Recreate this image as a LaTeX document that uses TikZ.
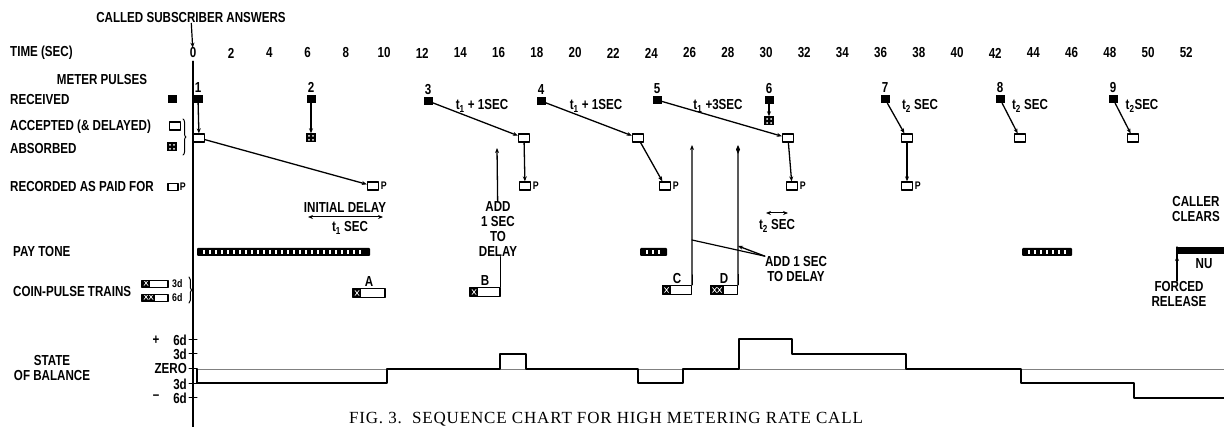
\documentclass[tikz,border=0pt]{standalone}
\usepackage{fontspec}
\newfontfamily\chartfont{Liberation Sans}[FakeStretch=0.8]
\newfontfamily\capfont{Liberation Serif}[LetterSpace=5]
\usetikzlibrary{arrows.meta,decorations.pathreplacing}
\begin{document}
\begin{tikzpicture}[x=1pt,y=-1pt,line join=round,line cap=round,>={Stealth[length=5pt,width=4pt]}]
\tikzset{lbl/.style={font=\chartfont\bfseries\fontsize{14.5}{15}\selectfont,inner sep=0pt},
  sml/.style={font=\chartfont\bfseries\fontsize{11}{12}\selectfont,inner sep=0pt},
  rcv/.style={fill=black,minimum width=9pt,minimum height=8pt,inner sep=0pt},
  acc/.style={draw,line width=1.3pt,fill=white,minimum width=11pt,minimum height=8pt,inner sep=0pt},
  absb/.style={rcv,minimum width=10pt,minimum height=9pt,path picture={
    \foreach \dx/\dy in {-2/-2,2/-2,-2/2,2/2}
      \fill[white] ([xshift=\dx pt,yshift=\dy pt]path picture bounding box.center) circle (1pt);}},
  paid/.style={acc,label={[sml,xshift=1.5pt]right:P}},
  coin/.style={draw,line width=1.2pt,fill=white,minimum width=29pt,minimum height=9pt,inner sep=0pt},
  hatch3/.style={path picture={\fill[black] (path picture bounding box.south west) rectangle ++(8pt,10pt);
    \draw[white,line width=0.7pt] ([shift={(2pt,2pt)}]path picture bounding box.south west) -- ++(4pt,5pt)
      ([shift={(2pt,7pt)}]path picture bounding box.south west) -- ++(4pt,-5pt);}},
  hatch6/.style={path picture={\fill[black] (path picture bounding box.south west) rectangle ++(13pt,10pt);
    \foreach \hx in {2,7}
      \draw[white,line width=0.7pt] ([shift={(\hx pt,2pt)}]path picture bounding box.south west) -- ++(4pt,5pt)
        ([shift={(\hx pt,7pt)}]path picture bounding box.south west) -- ++(4pt,-5pt);}},
  link/.style={->,line width=1.3pt},
  tone/.style={fill=black,rounded corners=1pt}}
% heading and time scale
\useasboundingbox (0,0) rectangle (1224,427);
\node[lbl] (csa) at (191,18) {CALLED SUBSCRIBER ANSWERS};
\node[lbl,anchor=west] (time) at (10,53) {TIME (SEC)};
\foreach \t in {0,2,...,52}
  \node[lbl] (t\t) at ({193+19.1*\t},53) {\t};
\draw[->,line width=1.2pt] (csa) -- (t0);
\coordinate (axbot) at (193,427);
\draw[line width=1.6pt] ([yshift=-3pt]t0.south) -- (axbot);
% row titles
\node[lbl] (mp) at (102,80) {METER PULSES};
\node[lbl,anchor=west] (recv) at (10,100) {RECEIVED};
\node[lbl,anchor=west] (acpt) at (10,127) {ACCEPTED (\& DELAYED)};
\node[lbl,anchor=west] (absd) at (10,149) {ABSORBED};
\node[lbl,anchor=west] (rcrd) at (10,187) {RECORDED AS PAID FOR};
\node[lbl,anchor=west] (ptone) at (13,252) {PAY TONE};
\node[lbl,anchor=west] (cpt) at (13,292) {COIN-PULSE TRAINS};
\node[lbl,align=center] (sob) at (52,368) {STATE\\OF BALANCE};
% legend
\node[rcv] (lgR) at (172,99) {};
\node[acc] (lgA) at (175,126) {};
\node[absb] (lgB) at (172,147) {};
\draw[decorate,decoration={brace,amplitude=3pt},line width=1pt] (183,119) -- (183,155);
\node[acc,minimum width=10pt,minimum height=7pt,label={[sml,xshift=1pt]right:P}] (lgP) at (173,187) {};
\node[coin,hatch3,minimum width=26pt,minimum height=7pt] (lg3) at (155,284) {};
\node[sml,anchor=west] (lg3t) at (172,284) {3d};
\node[coin,hatch6,minimum width=26pt,minimum height=7pt] (lg6) at (155,298) {};
\node[sml,anchor=west] (lg6t) at (172,298) {6d};
\draw[decorate,decoration={brace,amplitude=2.5pt},line width=1pt] (189,277) -- (189,303);
% meter pulses
\foreach \n/\x/\y in {1/198/99,2/311/99,3/428/101,4/541/101,5/657/100,6/769/100,7/885/99,8/1000/99,9/1113/99}
  \node[rcv,label={[lbl,yshift=2pt]above:\n}] (r\n) at (\x,\y) {};
\foreach \n/\x in {1/199,3/524,4/638,5/788,7/907,8/1020,9/1133}
  \node[acc] (a\n) at (\x,138) {};
\node[absb] (b2) at (311,138) {};
\node[absb] (b6) at (769,121) {};
\foreach \n/\x in {1/373,3/525,4/665,5/792,7/907}
  \node[paid] (p\n) at (\x,186) {};
\draw[link] (r1) -- (a1);
\draw[link] (a1) -- (p1);
\draw[link] (r2) -- (b2);
\draw[link] (r3) -- (a3);
\draw[link] (a3) -- (p3);
\draw[link] (r4) -- (a4);
\draw[link] (a4) -- (p4);
\draw[link] (r5) -- (a5);
\draw[link] (a5) -- (p5);
\draw[link] (r6) -- (b6);
\draw[link] (r7) -- (a7);
\draw[link] (a7) -- (p7);
\draw[link] (r8) -- (a8);
\draw[link] (r9) -- (a9);
\node[lbl] (d3) at (482,106) {t\textsubscript{1} + 1SEC};
\node[lbl] (d4) at (596,106) {t\textsubscript{1} + 1SEC};
\node[lbl] (d5) at (718,106) {t\textsubscript{1} +3SEC};
\node[lbl] (d7) at (920,106) {t\textsubscript{2} SEC};
\node[lbl] (d8) at (1030,106) {t\textsubscript{2} SEC};
\node[lbl] (d9) at (1142,106) {t\textsubscript{2}SEC};
% delays
\node[lbl] (idl) at (345,208) {INITIAL DELAY};
\coordinate (id1) at (308,217);
\coordinate (id2) at (383,217);
\draw[<->,line width=1pt] (id1) -- (id2);
\node[lbl] (t1s) at (350,228) {t\textsubscript{1} SEC};
\coordinate (t2a) at (766,213);
\coordinate (t2b) at (788,213);
\draw[<->,line width=1pt] (t2a) -- (t2b);
\node[lbl] (t2s) at (777,226) {t\textsubscript{2} SEC};
% pay tone
\foreach \xa/\xb in {197/370,640/667,1022/1072}{
  \fill[tone] (\xa,248) rectangle (\xb,256);
  \pgfmathtruncatemacro\nslot{(\xb-\xa)/6-1}
  \foreach \k in {1,...,\nslot}
    \fill[white] ({\xa+6*\k},250) rectangle ++(1.6,4);
}
\fill (1177,247) rectangle (1224,254);
\draw[line width=1.3pt] (1177,247) -- (1177,258);
\node[lbl] (nu) at (1204,264) {NU};
\node[lbl,align=center] (frel) at (1179,294) {FORCED\\RELEASE};
\coordinate (frtop) at (1177,256);
\draw[link] (frel.north -| frtop) -- (frtop);
\node[lbl,align=center] (ccl) at (1196,209) {CALLER\\CLEARS};
% coin-pulse trains
\node[coin,hatch3,minimum width=32pt,label={[lbl,yshift=1pt]above:A}] (cA) at (369,293) {};
\node[coin,hatch3,minimum width=30pt,label={[lbl,yshift=1pt]above:B}] (cB) at (485,292) {};
\node[coin,hatch3,label={[lbl,yshift=1pt]above:C}] (cC) at (677,290) {};
\node[coin,hatch6,minimum width=27pt,label={[lbl,yshift=1pt]above:D}] (cD) at (724,290) {};
\node[lbl,align=center] (addB) at (498,229) {ADD\\1 SEC\\TO\\DELAY};
\coordinate (addBup) at (497,148);
\draw[link] (addB) -- (addBup);
\draw[line width=1.3pt] (cB.north east) -- (cB.north east |- addB.south);
\coordinate (Ctop) at (692,145);
\coordinate (Dtop) at (738,145);
\draw[link] (cC.north east) -- (Ctop);
\draw[line width=1.3pt,-{Diamond[length=9pt,width=4pt]}] (cD.north east) -- (Dtop);
\node[lbl,align=center] (addCD) at (796,269) {ADD 1 SEC\\TO DELAY};
\coordinate (onC) at (692,240);
\coordinate (onD) at (738,246);
\draw[line width=1.2pt] (addCD.north west) -- (onC);
\draw[link] (addCD.north west) -- (onD);
% state of balance
\node[lbl] (plus) at (156,340) {+};
\node[lbl] (minus) at (156,397) {\textendash};
\foreach \lab/\y in {6d/340,3d/354,ZERO/369,3d/384,6d/398}{
  \node[lbl,anchor=east] (bl\y) at (187,\y) {\lab};
  \draw[line width=1pt] (189,\y) -- (197,\y);}
\draw[gray,line width=0.8pt] (197,369) -- (1224,369);
\draw[line width=1.7pt] (197,369) -- ++(0,14) -| (387,369) -| (500,354) -| (526,369) -| (638,383)
  -| (683,369) -| (739,339) -| (792,354) -| (906,369) -| (1021,383) -| (1134,398) -- (1224,398);
\node[font=\capfont\fontsize{17}{19}\selectfont] (cap) at (606,419) {FIG. 3.\ \ SEQUENCE CHART FOR HIGH METERING RATE CALL};
\end{tikzpicture}
\end{document}
